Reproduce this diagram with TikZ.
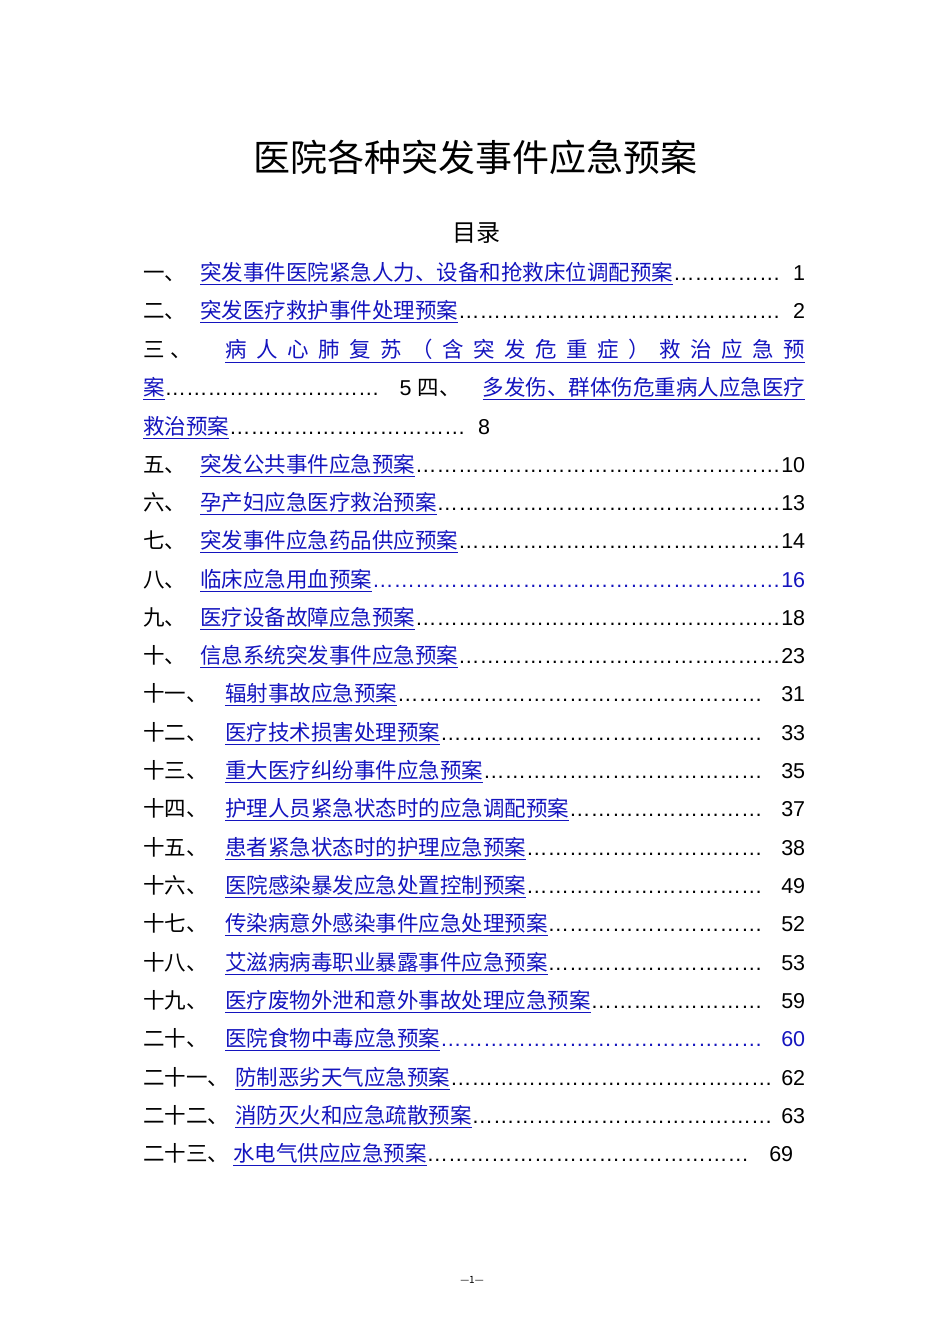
\documentclass[tikz,border=0pt]{standalone}
\usepackage{fontspec}
\setmainfont{Noto Sans CJK SC}
\newfontfamily\arial{Liberation Sans}
\definecolor{linkc}{RGB}{20,20,190}
\newcommand\uline[1]{\underline{#1}}
\newcommand\dotsf{\leaders\hbox{\arial …}\hfill}
\newcommand\toc[6]{%
  \node[anchor=base west,inner sep=0] (l#1) at (143,{1344-#1}) {#2};
  \node[anchor=base west,inner sep=0] (t#1) at (#3,{1344-#1})
   {\hbox to \dimexpr 805pt-#3pt\relax{\color{linkc}\uline{#4}\color{#6}\dotsf{\arial #5}}};}
\begin{document}
\begin{tikzpicture}[x=1pt,y=1pt,every node/.style={font=\fontsize{21.5}{24}\selectfont}]
\useasboundingbox (0,0) rectangle (950,1344);
\node[inner sep=0,font=\fontsize{37}{40}\selectfont] (title) at (475,{1344-157}) {医院各种突发事件应急预案};
\node[inner sep=0,font=\fontsize{24}{28}\selectfont] (mulu) at (476,{1344-233}) {目录};
\toc{281}{一、}{200}{突发事件医院紧急人力、设备和抢救床位调配预案}{1}{black}
\toc{319}{二、}{200}{突发医疗救护事件处理预案}{2}{black}
\node[anchor=base west,inner sep=0] (l358) at (143,{1344-358}) {三\hspace{6pt}、};
\node[anchor=base west,inner sep=0] (t358) at (225,{1344-358}) {\hbox to 580pt{\color{linkc}病\hfill 人\hfill 心\hfill 肺\hfill 复\hfill 苏\hfill （\hfill 含\hfill 突\hfill 发\hfill 危\hfill 重\hfill 症\hfill ）\hfill 救\hfill 治\hfill 应\hfill 急\hfill 预}};
\draw[linkc,line width=0.8pt] ([yshift=-4pt]t358.base west) -- ([yshift=-4pt]t358.base east);
\node[anchor=base west,inner sep=0] (l396) at (143,{1344-396}) {\hbox to 662pt{\color{linkc}\uline{案}\color{black}\hbox to 247pt{\dotsf{\arial 5}}\hspace{6pt}四、\hfill\color{linkc}\uline{多发伤、群体伤危重病人应急医疗}}};
\node[anchor=base west,inner sep=0] (l435) at (143,{1344-435}) {\hbox to 347pt{\color{linkc}\uline{救治预案}\color{black}\dotsf{\arial 8}}};
\toc{473}{五、}{200}{突发公共事件应急预案}{10}{black}
\toc{511}{六、}{200}{孕产妇应急医疗救治预案}{13}{black}
\toc{549}{七、}{200}{突发事件应急药品供应预案}{14}{black}
\toc{588}{八、}{200}{临床应急用血预案}{16}{linkc}
\toc{626}{九、}{200}{医疗设备故障应急预案}{18}{black}
\toc{664}{十、}{200}{信息系统突发事件应急预案}{23}{black}
\toc{702}{十一、}{225}{辐射事故应急预案}{31}{black}
\toc{741}{十二、}{225}{医疗技术损害处理预案}{33}{black}
\toc{779}{十三、}{225}{重大医疗纠纷事件应急预案}{35}{black}
\toc{817}{十四、}{225}{护理人员紧急状态时的应急调配预案}{37}{black}
\toc{856}{十五、}{225}{患者紧急状态时的护理应急预案}{38}{black}
\toc{894}{十六、}{225}{医院感染暴发应急处置控制预案}{49}{black}
\toc{932}{十七、}{225}{传染病意外感染事件应急处理预案}{52}{black}
\toc{971}{十八、}{225}{艾滋病病毒职业暴露事件应急预案}{53}{black}
\toc{1009}{十九、}{225}{医疗废物外泄和意外事故处理应急预案}{59}{black}
\toc{1047}{二十、}{225}{医院食物中毒应急预案}{60}{linkc}
\toc{1086}{二十一、}{235}{防制恶劣天气应急预案}{62}{black}
\toc{1124}{二十二、}{235}{消防灭火和应急疏散预案}{63}{black}
\node[anchor=base west,inner sep=0] (l1162) at (143,{1344-1162}) {二十三、};
\node[anchor=base west,inner sep=0] (t1162) at (233,{1344-1162}) {\hbox to 560pt{\color{linkc}\uline{水电气供应应急预案}\color{black}\dotsf{\arial 69}}};
\node[inner sep=0,font=\fontsize{10}{12}\selectfont] (foot) at (472,{1344-1280}) {—1—};
\end{tikzpicture}
\end{document}
